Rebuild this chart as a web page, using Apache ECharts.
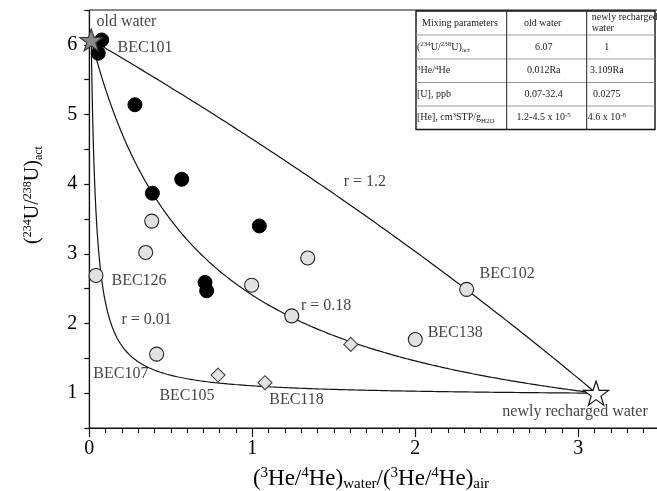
<!DOCTYPE html>
<html>
<head>
<meta charset="utf-8">
<script src="https://cdn.jsdelivr.net/npm/echarts@6/dist/echarts.min.js"></script>
<style>
  html, body { margin: 0; padding: 0; background: #fff; overflow: hidden; width: 657px; height: 491px; }
  /* the plot frame runs on past the right edge of the page, so the canvas is wider than the view */
  #chart { width: 760px; height: 491px; }
</style>
</head>
<body>
<div id="chart"></div>
<script>
// ---- data ----
// groundwater samples: [He ratio (water/air), (234U/238U) activity ratio]
const blackSamples = [[0.076, 6.07], [0.055, 5.88], [0.28, 5.14], [0.567, 4.07], [0.387, 3.87],
                      [1.043, 3.40], [0.71, 2.59], [0.72, 2.47]];
const greySamples = [[0.383, 3.47], [0.346, 3.02], [0.041, 2.69], [0.996, 2.55], [1.34, 2.94],
                     [1.242, 2.11], [0.413, 1.56], [2.315, 2.49], [2.0, 1.77]];
const diamondSamples = [[1.604, 1.70], [0.79, 1.26], [1.078, 1.15]];

// mixing end members: [3He/4He (Ra), (234U/238U)act]
const oldWater = [0.012, 6.07];
const newWater = [3.109, 1];
// curvature of the two-component mixing hyperbolae
const mixingR = [1.2, 0.18, 0.01];

// tick labels
const xTickLabels = ['0', '1', '2', '3'];
const yTickLabels = ['1', '2', '3', '4', '5', '6'];

// sample names and curve labels: [text, x, y] (anchor of the text centre in data units)
const annotations = [
  ['old water', 0.228, 6.33],
  ['BEC101', 0.342, 5.96],
  ['BEC126', 0.305, 2.62],
  ['r = 0.01', 0.352, 2.05],
  ['r = 0.18', 1.453, 2.26],
  ['r = 1.2', 1.691, 4.04],
  ['BEC107', 0.194, 1.28],
  ['BEC105', 0.599, 0.965],
  ['BEC118', 1.271, 0.90],
  ['BEC102', 2.563, 2.72],
  ['BEC138', 2.245, 1.87],
  ['newly recharged water', 2.98, 0.73]
];

// mixing parameter table
const tableHeader = ['Mixing parameters', 'old water', 'newly recharged\nwater'];
const tableRows = [
  ['{m|(}{s|234}{m|U/}{s|238}{m|U)}{b|act}', '6.07', '1'],
  ['{s|3}{m|He/}{s|4}{m|He}', '0.012Ra', '3.109Ra'],
  ['{m|[U], ppb}', '0.07-32.4', '0.0275'],
  ['{m|[He], cm}{s|3}{m|STP/g}{b|H2O}', '{m|1.2-4.5 x 10}{s|-5}', '{m|4.6 x 10}{s|-8}']
];

// ---- mixing hyperbola between the two end members ----
function mixingCurve(r) {
  const ws = [];
  const n = 400;
  for (let i = 0; i <= n; i++) {
    const w = i / n;             // He-weighted fraction of old water
    ws.push(w);
    const u = i / n;             // U-weighted fraction of old water
    ws.push(u / (u + r * (1 - u)));
  }
  ws.sort((a, b) => a - b);
  return ws.map(w => {
    const u = r * w / (r * w + (1 - w));
    return [w * oldWater[0] + (1 - w) * newWater[0], u * oldWater[1] + (1 - u) * newWater[1]];
  });
}

const SERIF = 'Liberation Serif';
const STAR = 'path://M50,0 L61.8,35.1 L98.1,35.1 L68.8,56.7 L79.4,91 L50,70 L20.6,91 L31.2,56.7 L1.9,35.1 L38.2,35.1 Z';

const chart = echarts.init(document.getElementById('chart'), null, { renderer: 'canvas' });

// ---- table graphics ----
const colX = [416, 506.7, 586.7, 655];
const rowY = [11, 35, 59, 82.5, 106, 129.5];
const tRich = {
  m: { fontFamily: SERIF, fontSize: 10, lineHeight: 13, fill: '#222' },
  s: { fontFamily: SERIF, fontSize: 7, lineHeight: 7, verticalAlign: 'top', fill: '#222' },
  b: { fontFamily: SERIF, fontSize: 7, lineHeight: 7, verticalAlign: 'bottom', fill: '#222' }
};
function cellText(str) { return str.indexOf('{') >= 0 ? str : '{m|' + str + '}'; }

const tableEls = [];
tableEls.push({ type: 'rect', shape: { x: colX[0], y: rowY[0], width: colX[3] - colX[0], height: rowY[5] - rowY[0] },
  style: { fill: '#fff', stroke: '#111', lineWidth: 1.4 }, z: 10 });
for (let i = 1; i < rowY.length - 1; i++) {
  tableEls.push({ type: 'line', shape: { x1: colX[0], y1: rowY[i], x2: colX[3], y2: rowY[i] },
    style: { stroke: '#999', lineWidth: 1 }, z: 11 });
}
for (let j = 1; j < colX.length - 1; j++) {
  tableEls.push({ type: 'line', shape: { x1: colX[j], y1: rowY[0], x2: colX[j], y2: rowY[5] },
    style: { stroke: '#222', lineWidth: 1 }, z: 11 });
}
// header
tableEls.push({ type: 'text', x: colX[0] + 6, y: (rowY[0] + rowY[1]) / 2, z: 12,
  style: { text: tableHeader[0], font: '10px "' + SERIF + '"', fill: '#222', verticalAlign: 'middle' } });
tableEls.push({ type: 'text', x: (colX[1] + colX[2]) / 2 - 4, y: (rowY[0] + rowY[1]) / 2, z: 12,
  style: { text: tableHeader[1], font: '10px "' + SERIF + '"', fill: '#222', align: 'center', verticalAlign: 'middle' } });
tableEls.push({ type: 'text', x: colX[2] + 5, y: (rowY[0] + rowY[1]) / 2, z: 12,
  style: { text: tableHeader[2], font: '10px "' + SERIF + '"', fill: '#222', lineHeight: 11, verticalAlign: 'middle' } });
tableRows.forEach((row, i) => {
  const cy = (rowY[i + 1] + rowY[i + 2]) / 2;
  tableEls.push({ type: 'text', x: colX[0] + 1, y: cy, z: 12,
    style: { text: cellText(row[0]), rich: tRich, verticalAlign: 'middle' } });
  tableEls.push({ type: 'text', x: (colX[1] + colX[2]) / 2 - 3, y: cy, z: 12,
    style: { text: cellText(row[1]), rich: tRich, align: 'center', verticalAlign: 'middle' } });
  tableEls.push({ type: 'text', x: (colX[2] + colX[3]) / 2 - 14, y: cy, z: 12,
    style: { text: cellText(row[2]), rich: tRich, align: 'center', verticalAlign: 'middle' } });
});

// ---- axis titles ----
const xTitleRich = {
  m: { fontFamily: SERIF, fontSize: 23, lineHeight: 26, fill: '#000' },
  s: { fontFamily: SERIF, fontSize: 15, lineHeight: 15, verticalAlign: 'top', fill: '#000' },
  b: { fontFamily: SERIF, fontSize: 15, lineHeight: 15, verticalAlign: 'bottom', fill: '#000' }
};
const yTitleRich = {
  m: { fontFamily: SERIF, fontSize: 20, lineHeight: 23, fill: '#000' },
  s: { fontFamily: SERIF, fontSize: 12, lineHeight: 12, verticalAlign: 'top', fill: '#000' },
  b: { fontFamily: SERIF, fontSize: 12, lineHeight: 12, verticalAlign: 'bottom', fill: '#000' }
};

const curveSeries = mixingR.map(r => ({
  type: 'line',
  name: 'r = ' + r,
  data: mixingCurve(r),
  showSymbol: false,
  symbol: 'none',
  lineStyle: { color: '#111', width: 1.2 },
  z: 2,
  silent: true
}));

const option = {
  animation: false,
  backgroundColor: '#fff',
  grid: { left: 89.3, top: 10, width: 652, height: 418, show: true, borderColor: '#111', borderWidth: 1 },
  xAxis: {
    type: 'value', min: 0, max: 4, interval: 1,
    axisLine: { onZero: false, lineStyle: { color: '#111', width: 1.2 } },
    axisTick: { show: true, length: 9, lineStyle: { color: '#111', width: 1.2 } },
    minorTick: { show: true, splitNumber: 10, length: 5, lineStyle: { color: '#111', width: 1.1 } },
    splitLine: { show: false },
    axisLabel: {
      margin: 11, color: '#000', fontFamily: SERIF, fontSize: 20,
      formatter: v => (Number.isInteger(v) && v < xTickLabels.length) ? xTickLabels[v] : ''
    }
  },
  yAxis: {
    type: 'value', min: 0.5, max: 6.5, interval: 0.5,
    axisLine: { onZero: false, lineStyle: { color: '#111', width: 1.2 } },
    axisTick: { show: true, length: 5, lineStyle: { color: '#111', width: 1.2 } },
    splitLine: { show: false },
    axisLabel: {
      margin: 12, color: '#000', fontFamily: SERIF, fontSize: 20,
      formatter: v => Number.isInteger(v) ? yTickLabels[v - 1] : ''
    }
  },
  graphic: [
    { type: 'group', children: tableEls },
    { type: 'text', x: 371, y: 479, z: 20,
      style: { text: '{m|(}{s|3}{m|He/}{s|4}{m|He)}{b|water}{m|/(}{s|3}{m|He/}{s|4}{m|He)}{b|air}',
        rich: xTitleRich, align: 'center', verticalAlign: 'middle' } },
    { type: 'text', x: 33, y: 195, rotation: Math.PI / 2, z: 20,
      style: { text: '{m|(}{s|234}{m|U/}{s|238}{m|U)}{b|act}',
        rich: yTitleRich, align: 'center', verticalAlign: 'middle' } }
  ],
  series: [
    ...curveSeries,
    {
      type: 'scatter', name: 'samples (black)', data: blackSamples,
      symbol: 'circle', symbolSize: 14,
      itemStyle: { color: '#000', borderColor: '#000', borderWidth: 1, opacity: 1 }, z: 5
    },
    {
      type: 'scatter', name: 'samples (grey)', data: greySamples,
      symbol: 'circle', symbolSize: 14,
      itemStyle: { color: '#e2e2e2', borderColor: '#222', borderWidth: 1.1, opacity: 1 }, z: 5
    },
    {
      type: 'scatter', name: 'samples (diamond)', data: diamondSamples,
      symbol: 'diamond', symbolSize: [14, 14],
      itemStyle: { color: '#e2e2e2', borderColor: '#444', borderWidth: 1.1, opacity: 1 }, z: 5
    },
    {
      type: 'scatter', name: 'old water', data: [oldWater],
      symbol: STAR, symbolSize: [23, 22],
      itemStyle: { color: '#8a8a8a', borderColor: '#333', borderWidth: 1.1, opacity: 1 }, z: 6
    },
    {
      type: 'scatter', name: 'newly recharged water', data: [newWater],
      symbol: STAR, symbolSize: [25, 24],
      itemStyle: { color: '#fff', borderColor: '#111', borderWidth: 1.2, opacity: 1 }, z: 6
    },
    {
      type: 'scatter', name: 'annotations',
      data: annotations.map(a => ({ name: a[0], value: [a[1], a[2]] })),
      symbolSize: 0.1,
      itemStyle: { color: 'rgba(0,0,0,0)' },
      label: { show: true, position: 'inside', formatter: p => p.name, color: '#111', fontFamily: SERIF, fontSize: 16 },
      silent: true, z: 7
    }
  ]
};
chart.setOption(option);
</script>
</body>
</html>
